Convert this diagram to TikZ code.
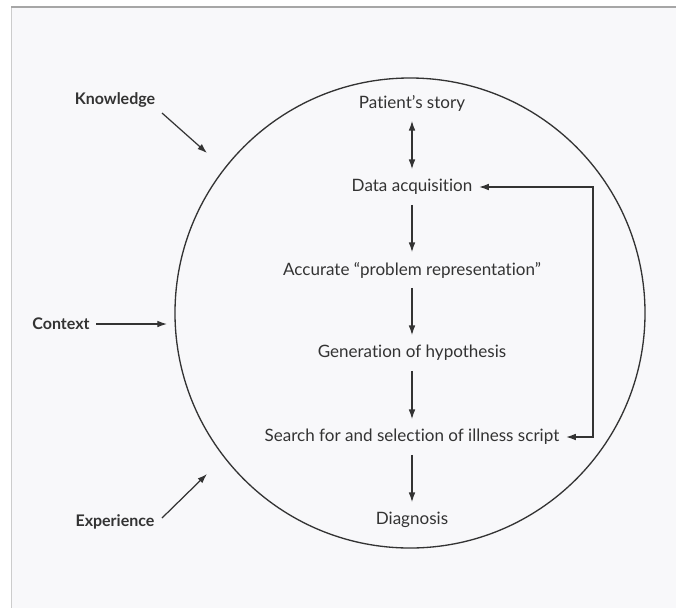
\documentclass[tikz,border=0pt]{standalone}
\usepackage{fontspec}
\setmainfont{Lato}[Ligatures=NoCommon]
\usetikzlibrary{arrows.meta,calc}
\definecolor{paper}{HTML}{F8F8FA}
\definecolor{ink}{HTML}{333333}
\tikzstyle{none}=[]
\tikzstyle{stage}=[inner xsep=1.3mm, minimum height=7mm, text=ink, font=\fontsize{9.7}{11}\selectfont]
\tikzstyle{source}=[inner xsep=1.3mm, minimum height=7mm, text=ink, font=\fontsize{9.1}{11}\selectfont\bfseries]
\tikzstyle{flow}=[draw=ink, line width=0.7pt, -{Latex[length=5.5pt,width=3.8pt]}]

\begin{document}
\begin{tikzpicture}[x=0.2mm, y=-0.2mm]
                \useasboundingbox (0, 0) rectangle (676, 608);
                \fill [white] (0, 0) rectangle (676, 608);
                \fill [paper] (11, 8) rectangle (676, 608);
                \draw [gray!70, line width=1pt] (11, 7) to (676, 7);
                \draw [gray!40, line width=0.4pt] (11, 8) to (11, 608);
                \draw [ink, line width=0.75pt] (410, 313) circle [radius=47mm];
                \node [style=stage] (0) at (412, 103) {Patient’s story};
                \node [style=stage] (1) at (412, 187) {Data acquisition};
                \node [style=stage] (2) at (412, 270) {Accurate “problem representation”};
                \node [style=stage] (3) at (412, 353) {Generation of hypothesis};
                \node [style=stage] (4) at (412, 437) {Search for and selection of illness script};
                \node [style=stage] (5) at (412, 520) {Diagnosis};
                \node [style=source] (6) at (115, 100) {Knowledge};
                \node [style=source] (7) at (61, 324) {Context};
                \node [style=source] (8) at (115, 522) {Experience};
                \coordinate (9) at (593, 187);
                \coordinate (10) at (162, 113);
                \coordinate (11) at (207, 153);
                \coordinate (12) at (167, 324);
                \coordinate (13) at (162, 518);
                \coordinate (14) at (207, 474);
                \draw [style=flow, {Latex[length=5.5pt,width=3.8pt]}-{Latex[length=5.5pt,width=3.8pt]}] (0.south) to (1.north);
                \draw [style=flow] (1.south) to (2.north);
                \draw [style=flow] (2.south) to (3.north);
                \draw [style=flow] (3.south) to (4.north);
                \draw [style=flow] (4.south) to (5.north);
                \draw [style=flow, {Latex[length=5.5pt,width=3.8pt]}-{Latex[length=5.5pt,width=3.8pt]}] (1.east) -- (9) |- (4.east);
                \draw [style=flow] (10) to (11);
                \draw [style=flow] (7.east) to (12);
                \draw [style=flow] (13) to (14);
    \end{tikzpicture}
\end{document}
